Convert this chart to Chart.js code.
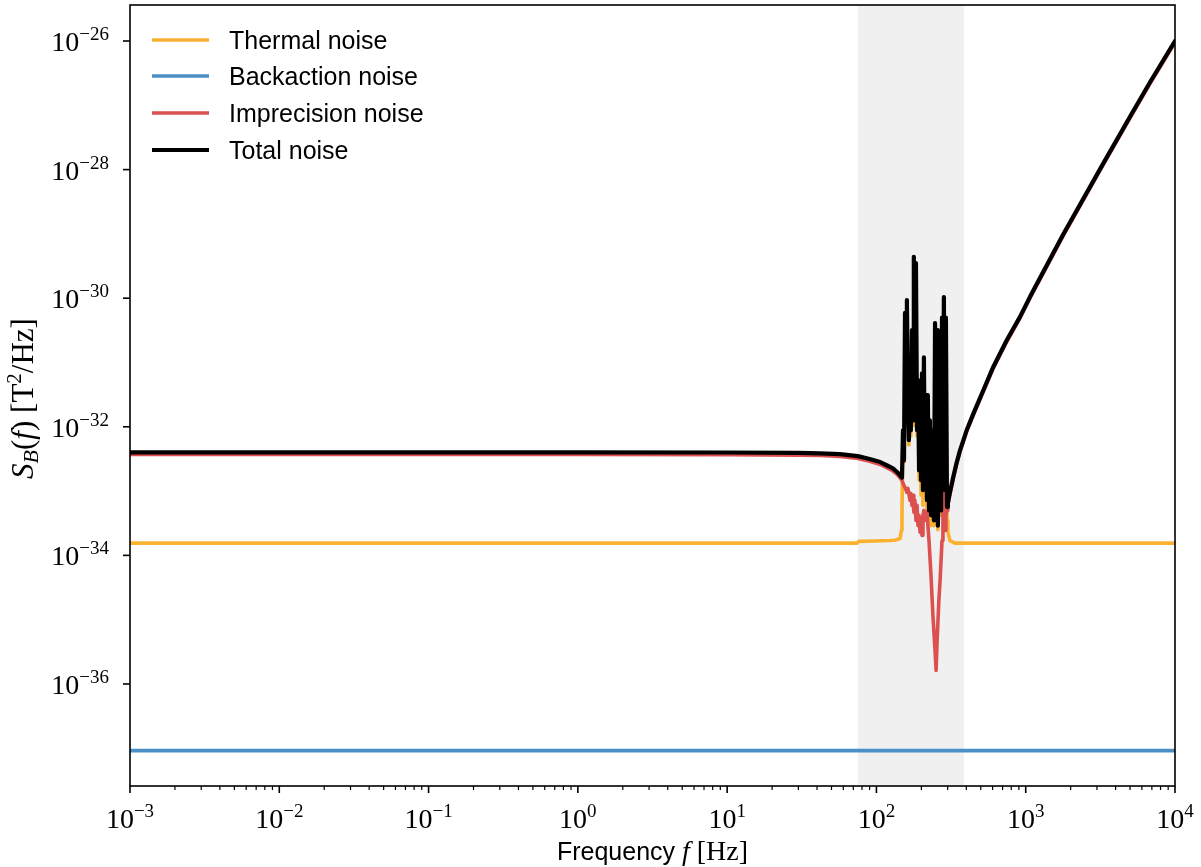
<!DOCTYPE html>
<html><head><meta charset="utf-8">
<script src="https://cdn.jsdelivr.net/npm/chart.js@4/dist/chart.umd.min.js"></script>
<style>html,body{margin:0;padding:0;background:#fff;overflow:hidden}</style>
</head><body>
<canvas id="c" width="1201" height="867"></canvas>
<script>
// ---------------- data ----------------
const seriesLabels = ['Thermal noise', 'Backaction noise', 'Imprecision noise', 'Total noise'];
const seriesColors = ['#fbb130', '#4a8fc6', '#dd5050', '#000000'];

const thermalFreq = [0.001, 10, 74, 76, 98, 123, 133, 144, 147, 148.3, 150.6, 153, 155.4, 157.8, 160, 162.6, 165, 167.8, 170, 173, 175.8, 178, 181, 184, 187, 190, 193, 196, 199, 202, 205, 208, 211, 215, 218, 221, 225, 228, 232, 235, 239, 243, 247, 251, 255, 258, 262, 267, 271, 275, 279, 283, 288, 292, 297, 301, 311, 326, 336, 10000];
const thermalVal  = [1.55e-34, 1.55e-34, 1.55e-34, 1.65e-34, 1.67e-34, 1.7e-34, 1.72e-34, 1.83e-34, 2.45e-34, 4.2e-34, 7.9e-33, 2.8e-33, 5.5e-31, 1.1e-32, 8.8e-31, 2.2e-32, 5.2e-33, 5.0e-32, 7.2e-33, 3.0e-31, 1.05e-32, 4.3e-30, 1.4e-31, 3.4e-30, 7.2e-33, 5.0e-32, 1.48e-33, 2.9e-32, 8.6e-34, 6.4e-32, 6.0e-34, 1.15e-31, 8.6e-34, 2.9e-32, 4.2e-34, 2.9e-32, 3.2e-34, 1.18e-32, 2.9e-34, 8.2e-33, 5.0e-34, 2.9e-34, 3.9e-31, 4.5e-34, 3.0e-31, 2.5e-34, 1.8e-33, 1.0e-31, 4.2e-34, 4.8e-31, 5.2e-33, 1.0e-30, 6.0e-34, 4.8e-31, 3.5e-34, 2.3e-34, 1.7e-34, 1.6e-34, 1.55e-34, 1.55e-34];

const backactionFreq = [0.001, 1, 100, 10000];
const backactionVal  = [9.2e-38, 9.2e-38, 9.2e-38, 9.2e-38];

const imprecisionFreq = [0.001, 1, 10, 30, 42, 57, 75, 90, 106, 118, 129, 138, 144, 148.3, 150.6, 155.4, 160, 162.6, 167.8, 170, 173, 175.8, 178, 181, 184, 187, 190, 193, 196, 199, 202, 205, 208, 211, 218, 225, 232, 239, 247, 251, 255, 262, 267, 275, 279, 283, 288, 292, 297, 301, 311, 327, 345, 363, 402, 446, 520, 606, 746, 915, 1068, 1785, 3308, 4993, 6800, 10000];
const imprecisionVal  = [3.7e-33, 3.7e-33, 3.68e-33, 3.63e-33, 3.57e-33, 3.45e-33, 3.22e-33, 2.9e-33, 2.6e-33, 2.3e-33, 2.05e-33, 1.8e-33, 1.6e-33, 1.46e-33, 1.32e-33, 1.14e-33, 9.6e-34, 1.1e-33, 7.2e-34, 9.2e-34, 6.0e-34, 8.6e-34, 4.7e-34, 7.2e-34, 3.5e-34, 6.0e-34, 2.9e-34, 4.2e-34, 2.3e-34, 3.8e-34, 2.05e-34, 4.2e-34, 5.0e-34, 3.5e-34, 4.7e-34, 1.7e-34, 4.9e-35, 1.17e-35, 3.3e-36, 1.62e-36, 4.8e-36, 2.0e-35, 4.1e-35, 1.7e-34, 2.1e-33, 3.5e-34, 2.45e-34, 4.2e-34, 5.0e-34, 6.0e-34, 9.0e-34, 1.55e-33, 2.65e-33, 4.1e-33, 8.4e-33, 1.52e-32, 3.5e-32, 8.1e-32, 2.1e-31, 4.9e-31, 1.0e-30, 9.4e-30, 1.19e-28, 6.3e-28, 2.17e-27, 9.5e-27];

const totalFreq = [0.001, 1, 10, 30, 42, 57, 75, 90, 106, 118, 129, 138, 144, 148.3, 150.6, 153, 155.4, 157.8, 160, 162.6, 165, 167.8, 170, 173, 175.8, 178, 181, 184, 187, 190, 193, 196, 199, 202, 205, 208, 211, 215, 218, 221, 225, 228, 232, 235, 239, 243, 247, 251, 255, 258, 262, 267, 271, 275, 279, 283, 288, 292, 297, 301, 311, 327, 345, 363, 402, 446, 520, 606, 746, 915, 1068, 1785, 3308, 4993, 6800, 10000];
const totalVal  = [4.0e-33, 4.0e-33, 3.98e-33, 3.93e-33, 3.87e-33, 3.75e-33, 3.5e-33, 3.15e-33, 2.83e-33, 2.5e-33, 2.25e-33, 1.96e-33, 1.76e-33, 1.62e-33, 8.8e-33, 3.0e-33, 5.9e-31, 1.26e-32, 9.3e-31, 2.6e-32, 6.2e-33, 5.3e-32, 8.8e-33, 3.2e-31, 1.26e-32, 4.4e-30, 1.5e-31, 3.5e-30, 8.8e-33, 5.3e-32, 2.1e-33, 3.1e-32, 1.48e-33, 6.8e-32, 1.03e-33, 1.2e-31, 1.48e-33, 3.1e-32, 7.2e-34, 3.1e-32, 5.0e-34, 1.26e-32, 4.2e-34, 8.8e-33, 7.2e-34, 3.5e-34, 4.1e-31, 6.0e-34, 3.2e-31, 2.9e-34, 2.1e-33, 1.08e-31, 5.0e-34, 5.0e-31, 6.2e-33, 1.04e-30, 1.03e-33, 5.0e-31, 5.65e-34, 6.5e-34, 9.7e-34, 1.66e-33, 2.8e-33, 4.31e-33, 8.82e-33, 1.6e-32, 3.7e-32, 8.53e-32, 2.22e-31, 5.12e-31, 1.05e-30, 9.9e-30, 1.25e-28, 6.64e-28, 2.28e-27, 1.0e-26];

const shadedBand = [75, 385];            // Hz
const xTickExps = [-3, -2, -1, 0, 1, 2, 3, 4];
const yTickExps = [-36, -34, -32, -30, -28, -26];
const xRange = [1e-3, 1e4];
const yRange = [2.59e-38, 3.63e-26];

// ---------------- helpers ----------------
const SERIF = '"Liberation Serif", "DejaVu Serif", serif';
const SANS = '"Liberation Sans", "DejaVu Sans", sans-serif';
function pts(fr, vals) { return fr.map((f, i) => ({ x: f, y: vals[i] })); }
function drawRuns(ctx, runs, x, y, align) {
  let w = 0;
  runs.forEach(r => { ctx.font = r.font; r.w = ctx.measureText(r.t).width; w += r.w; });
  let cx = align === 'center' ? x - w / 2 : (align === 'right' ? x - w : x);
  ctx.textAlign = 'left'; ctx.textBaseline = 'alphabetic';
  runs.forEach(r => { ctx.font = r.font; ctx.fillText(r.t, cx, y + (r.dy || 0)); cx += r.w; });
}
function powRuns(e) {
  const s = (e < 0 ? '\u2212' : '') + Math.abs(e);
  return [{ t: '10', font: '28px ' + SERIF }, { t: s, font: '19px ' + SERIF, dy: -11 }];
}

const bandPlugin = {
  id: 'band',
  beforeDatasetsDraw(chart) {
    const { ctx, chartArea: a, scales: { x } } = chart;
    const x0 = x.getPixelForValue(shadedBand[0]), x1 = x.getPixelForValue(shadedBand[1]);
    ctx.save(); ctx.fillStyle = '#f0f0f0'; ctx.fillRect(x0, a.top, x1 - x0, a.bottom - a.top); ctx.restore();
  }
};

const axesPlugin = {
  id: 'axesDeco',
  afterDraw(chart) {
    const { ctx, chartArea: a, scales: { x, y } } = chart;
    ctx.save();
    ctx.strokeStyle = '#000'; ctx.fillStyle = '#000';
    ctx.lineWidth = 1.6;
    ctx.strokeRect(a.left, a.top, a.right - a.left, a.bottom - a.top);
    xTickExps.forEach((e, i) => {
      const px = x.getPixelForValue(Math.pow(10, e));
      ctx.lineWidth = 1.6; ctx.beginPath(); ctx.moveTo(px, a.bottom); ctx.lineTo(px, a.bottom + 7); ctx.stroke();
      drawRuns(ctx, powRuns(e), px, a.bottom + 42, 'center');
      if (i < xTickExps.length - 1) {
        for (let m = 2; m <= 9; m++) {
          const mx = x.getPixelForValue(m * Math.pow(10, e));
          ctx.lineWidth = 1.2; ctx.beginPath(); ctx.moveTo(mx, a.bottom); ctx.lineTo(mx, a.bottom + 4); ctx.stroke();
        }
      }
    });
    yTickExps.forEach(e => {
      const py = y.getPixelForValue(Math.pow(10, e));
      ctx.lineWidth = 1.6; ctx.beginPath(); ctx.moveTo(a.left, py); ctx.lineTo(a.left - 7, py); ctx.stroke();
      drawRuns(ctx, powRuns(e), a.left - 21, py + 10, 'right');
    });
    drawRuns(ctx, [
      { t: 'Frequency ', font: '25px ' + SANS },
      { t: 'f', font: 'italic 28px ' + SERIF },
      { t: ' [Hz]', font: '28px ' + SERIF }
    ], (a.left + a.right) / 2, 860, 'center');
    ctx.translate(33, (a.top + a.bottom) / 2 + 3);
    ctx.rotate(-Math.PI / 2);
    drawRuns(ctx, [
      { t: 'S', font: 'italic 31px ' + SERIF },
      { t: 'B', font: 'italic 22px ' + SERIF, dy: 5 },
      { t: '(', font: '31px ' + SERIF },
      { t: 'f', font: 'italic 31px ' + SERIF },
      { t: ') [T', font: '31px ' + SERIF },
      { t: '2', font: '21px ' + SERIF, dy: -12 },
      { t: '/Hz]', font: '31px ' + SERIF }
    ], 0, 0, 'center');
    ctx.restore();

    ctx.save();
    const rows = [40, 76, 113, 150];
    seriesLabels.forEach((lab, i) => {
      ctx.strokeStyle = seriesColors[i];
      ctx.lineWidth = i === 3 ? 4.2 : 3.6;
      ctx.beginPath(); ctx.moveTo(152, rows[i]); ctx.lineTo(209, rows[i]); ctx.stroke();
      ctx.fillStyle = '#000';
      drawRuns(ctx, [{ t: lab, font: '25px ' + SANS }], 229, rows[i] + 9, 'left');
    });
    ctx.restore();
  }
};

const lineDefaults = { pointRadius: 0, tension: 0, borderJoinStyle: 'round', borderCapStyle: 'round', fill: false };

new Chart(document.getElementById('c'), {
  type: 'line',
  data: {
    datasets: [
      Object.assign({ label: seriesLabels[0], data: pts(thermalFreq, thermalVal), borderColor: seriesColors[0], borderWidth: 3.6, order: 4 }, lineDefaults),
      Object.assign({ label: seriesLabels[1], data: pts(backactionFreq, backactionVal), borderColor: seriesColors[1], borderWidth: 3.6, order: 3 }, lineDefaults),
      Object.assign({ label: seriesLabels[2], data: pts(imprecisionFreq, imprecisionVal), borderColor: seriesColors[2], borderWidth: 3.6, order: 2 }, lineDefaults),
      Object.assign({ label: seriesLabels[3], data: pts(totalFreq, totalVal), borderColor: seriesColors[3], borderWidth: 4.2, order: 1 }, lineDefaults)
    ]
  },
  options: {
    responsive: false,
    animation: false,
    devicePixelRatio: 1,
    layout: { padding: { left: 130, top: 5, right: 26, bottom: 81 } },
    scales: {
      x: { type: 'logarithmic', min: xRange[0], max: xRange[1], display: false },
      y: { type: 'logarithmic', min: yRange[0], max: yRange[1], display: false }
    },
    plugins: { legend: { display: false }, tooltip: { enabled: false } }
  },
  plugins: [bandPlugin, axesPlugin]
});
</script>
</body></html>
